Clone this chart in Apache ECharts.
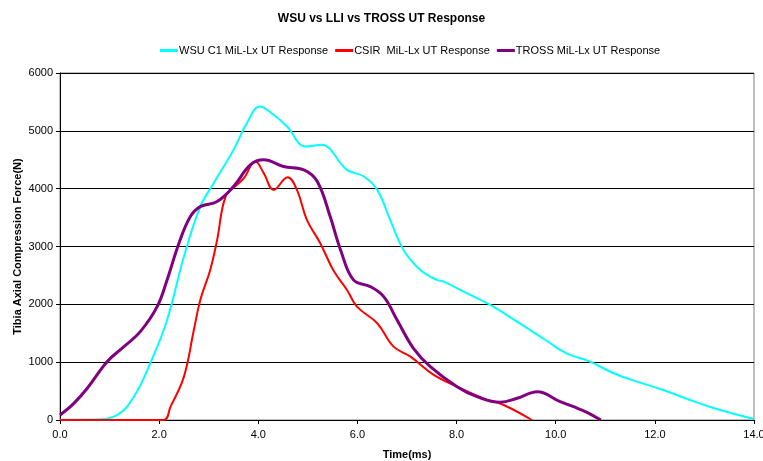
<!DOCTYPE html>
<html>
<head>
<meta charset="utf-8">
<script src="https://cdn.jsdelivr.net/npm/echarts@6/dist/echarts.min.js"></script>
<style>
  html, body { margin: 0; padding: 0; background: #fff; }
  #main { width: 763px; height: 461px; }
</style>
</head>
<body>
<div id="main"></div>
<script>
// series names
const seriesNames = ['WSU C1 MiL-Lx UT Response', 'CSIR  MiL-Lx UT Response', 'TROSS MiL-Lx UT Response']

// [time(ms), force(N)]
const wsu = [
  [0, 5], [0.68, 10], [1.15, 86], [1.49, 403], [1.82, 981], [2.16, 1730], [2.5, 2826],
  [2.83, 3690], [3.1, 4095], [3.5, 4671], [3.77, 5133], [4.03, 5420], [4.31, 5277],
  [4.58, 5075], [4.95, 4729], [5.27, 4758], [5.79, 4325], [6.13, 4210], [6.4, 3979],
  [6.66, 3460], [6.93, 2941], [7.27, 2595], [7.6, 2422], [7.74, 2393], [8.14, 2220],
  [8.68, 1990], [9.22, 1701], [9.89, 1327], [10.09, 1211], [10.29, 1125], [10.69, 1009],
  [11.17, 808], [11.64, 663], [12.17, 519], [12.71, 346], [13.25, 190], [14.0, 17]
]
const csir = [
  [0, 0], [1.0, 0], [2.09, 0], [2.23, 230], [2.5, 750], [2.7, 1557], [2.83, 2076],
  [3.03, 2595], [3.17, 3114], [3.34, 3863], [3.57, 4066], [3.71, 4181], [3.94, 4469],
  [4.11, 4268], [4.31, 3979], [4.59, 4199], [4.78, 3979], [4.98, 3460], [5.25, 3057],
  [5.52, 2580], [5.79, 2249], [5.99, 1960], [6.4, 1673], [6.73, 1268], [7.07, 1095],
  [7.54, 779], [8.01, 576], [8.54, 375], [8.95, 260], [9.52, 0]
]
const tross = [
  [0, 86], [0.28, 288], [0.55, 548], [0.95, 1009], [1.29, 1268], [1.62, 1528],
  [1.96, 1960], [2.16, 2422], [2.4, 3057], [2.63, 3517], [2.83, 3690], [3.17, 3777],
  [3.5, 4036], [3.84, 4412], [4.11, 4498], [4.51, 4383], [4.92, 4325], [5.19, 4123],
  [5.45, 3517], [5.66, 2941], [5.92, 2422], [6.26, 2306], [6.53, 2133], [6.8, 1730],
  [7.13, 1240], [7.47, 922], [8.01, 576], [8.41, 403], [8.88, 306], [9.22, 375],
  [9.63, 490], [10.09, 317], [10.36, 230], [10.63, 133], [10.91, 0]
]

const colors = ['#00FFFF', '#FF0000', '#800080']
const widths = [2, 2, 3]
const font = 'Liberation Sans, Arial, sans-serif'

const chart = echarts.init(document.getElementById('main'))
chart.setOption({
  animation: false,
  title: {
    text: 'WSU vs LLI vs TROSS UT Response',
    left: 'center',
    top: 8,
    textStyle: { fontFamily: font, fontSize: 12, fontWeight: 'bold', color: '#000' }
  },
  legend: {
    top: 40,
    left: 155,
    icon: 'rect',
    itemWidth: 18,
    itemHeight: 3,
    itemGap: 7,
    textStyle: { fontFamily: font, fontSize: 11, color: '#000', padding: [0, 0, 0, -4] },
    data: seriesNames
  },
  grid: {
    left: 60, right: 9, top: 73, bottom: 41,
    outerBoundsMode: 'none',
    containLabel: false,
    show: true, borderColor: '#808080', borderWidth: 1
  },
  xAxis: {
    type: 'value',
    min: 0, max: 14, interval: 2,
    name: 'Time(ms)',
    nameLocation: 'middle',
    nameGap: 29,
    nameTextStyle: { fontFamily: font, fontSize: 11, fontWeight: 'bold', color: '#000' },
    axisLine: { lineStyle: { color: '#000' } },
    axisTick: { length: 4, lineStyle: { color: '#000' } },
    axisLabel: {
      fontFamily: font, fontSize: 11, color: '#000', margin: 9,
      formatter: v => v.toFixed(1)
    },
    splitLine: { show: false }
  },
  yAxis: {
    type: 'value',
    min: 0, max: 6000, interval: 1000,
    name: 'Tibia Axial Compression Force(N)',
    nameLocation: 'middle',
    nameGap: 37,
    nameMoveOverlap: false,
    nameTextStyle: { fontFamily: font, fontSize: 11, fontWeight: 'bold', color: '#000' },
    axisLine: { show: true, lineStyle: { color: '#000' } },
    axisTick: { show: true, length: 4, lineStyle: { color: '#000' } },
    axisLabel: { fontFamily: font, fontSize: 11, color: '#000', margin: 7, formatter: v => String(v) },
    splitLine: { lineStyle: { color: '#000', width: 1 } }
  },
  series: [wsu, csir, tross].map((d, i) => ({
    name: seriesNames[i],
    type: 'line',
    data: d,
    smooth: 0.4,
    showSymbol: false,
    color: colors[i],
    lineStyle: { color: colors[i], width: widths[i] },
    z: 3 + i
  }))
})
</script>
</body>
</html>
